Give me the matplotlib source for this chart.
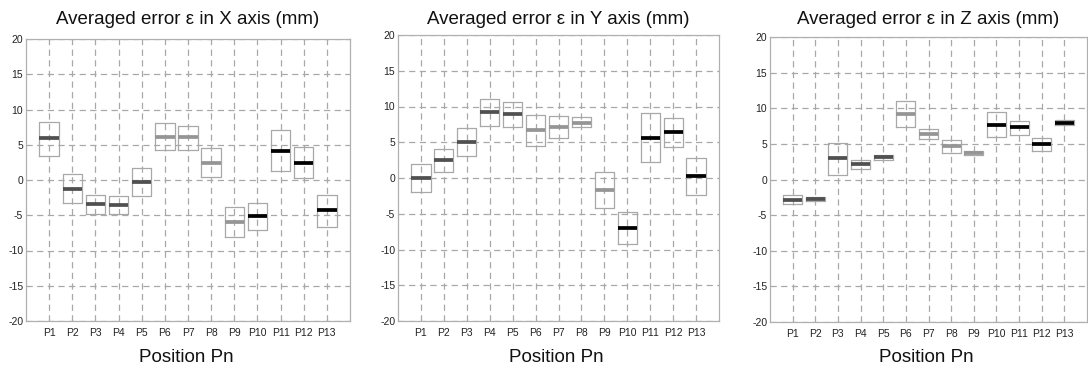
import matplotlib
matplotlib.use("Agg")
import matplotlib.pyplot as plt

plt.rcParams['font.family'] = ['Liberation Sans', 'DejaVu Sans']
plt.rcParams['axes.unicode_minus'] = False

positions = ["P1", "P2", "P3", "P4", "P5", "P6", "P7", "P8", "P9", "P10", "P11", "P12", "P13"]

# X axis error: box lower quartile, median, upper quartile
x_q1 = [3.45, -3.26, -4.82, -4.82, -2.22, 4.26, 4.26, 0.43, -8.08, -7.09, 1.23, 0.24, -6.62]
x_med = [5.9, -1.28, -3.4, -3.5, -0.28, 6.15, 6.1, 2.36, -5.96, -5.15, 4.16, 2.36, -4.3]
x_q3 = [8.27, 0.8, -2.13, -2.27, 1.75, 8.13, 7.6, 4.49, -3.78, -3.26, 7.14, 4.63, -2.17]

# Y axis error
y_q1 = [-2.0, 0.9, 3.12, 7.23, 7.13, 4.52, 5.64, 7.13, -4.2, -9.28, 2.24, 4.38, -2.33]
y_med = [-0.05, 2.56, 5.03, 9.18, 8.9, 6.76, 7.13, 7.74, -1.72, -6.95, 5.64, 6.43, 0.28]
y_q3 = [1.9, 4.1, 6.95, 11.05, 10.58, 8.86, 8.62, 8.48, 0.79, -4.76, 9.14, 8.44, 2.75]

# Z axis error
z_q1 = [-3.47, -2.96, 0.7, 1.41, 2.68, 7.42, 5.63, 3.66, 3.43, 5.92, 6.29, 3.94, 7.6]
z_med = [-2.86, -2.68, 2.96, 2.2, 3.1, 9.2, 6.38, 4.69, 3.7, 7.7, 7.32, 4.98, 7.98]
z_q3 = [-2.2, -2.44, 5.16, 2.77, 3.47, 11.0, 7.14, 5.54, 4.04, 9.48, 8.26, 5.87, 8.31]

# median line shade group per position
median_colors = ["#505050"] * 5 + ["#959595"] * 4 + ["#000000"] * 4

titles = ["Averaged error \u03b5 in X axis (mm)",
          "Averaged error \u03b5 in Y axis (mm)",
          "Averaged error \u03b5 in Z axis (mm)"]
xlabel = "Position Pn"
yticks = [-20, -15, -10, -5, 0, 5, 10, 15, 20]

W, H = 1088, 370
fig = plt.figure(figsize=(W / 100, H / 100), dpi=100)

# axes boxes in pixels: left, top, right, bottom
boxes_px = [(26, 39, 350, 321), (398, 35, 719, 321), (770, 37, 1087, 322)]
data = [(x_q1, x_med, x_q3), (y_q1, y_med, y_q3), (z_q1, z_med, z_q3)]

for (l, t, r, b), (q1, med, q3), title in zip(boxes_px, data, titles):
    ax = fig.add_axes([l / W, 1 - b / H, (r - l) / W, (b - t) / H])
    xs = list(range(1, len(positions) + 1))
    for xi, lo, m, hi, c in zip(xs, q1, med, q3, median_colors):
        stats = [dict(med=m, q1=lo, q3=hi, whislo=lo, whishi=hi, fliers=[])]
        ax.bxp(stats, positions=[xi], widths=0.84, showcaps=False,
               boxprops=dict(color="#a8a8a8", linewidth=0.9),
               whiskerprops=dict(color="#a8a8a8", linewidth=0.9),
               medianprops=dict(color=c, linewidth=2.7, solid_capstyle="butt"),
               manage_ticks=False)
    ax.set_xlim(0, 14)
    ax.set_ylim(-20, 20)
    ax.set_xticks(xs)
    ax.set_xticklabels(positions)
    ax.set_yticks(yticks)
    ax.grid(True, color="#a8a8a8", linestyle=(0, (5, 3.5)), linewidth=0.9)
    ax.set_axisbelow(True)
    for s in ax.spines.values():
        s.set_color("#b0b0b0")
        s.set_linewidth(0.9)
    ax.tick_params(axis="both", length=0, labelsize=7.5, colors="#222222", pad=2)
    ax.tick_params(axis="x", pad=5)
    cx = (l + r) / 2
    fig.text(cx / W, 1 - 19.5 / H, title, ha="center", va="center", fontsize=13.5, color="#111111")
    fig.text((cx - 2) / W, 1 - 358 / H, xlabel, ha="center", va="center", fontsize=13.5, color="#111111")

fig.savefig("out.png", dpi=100)
